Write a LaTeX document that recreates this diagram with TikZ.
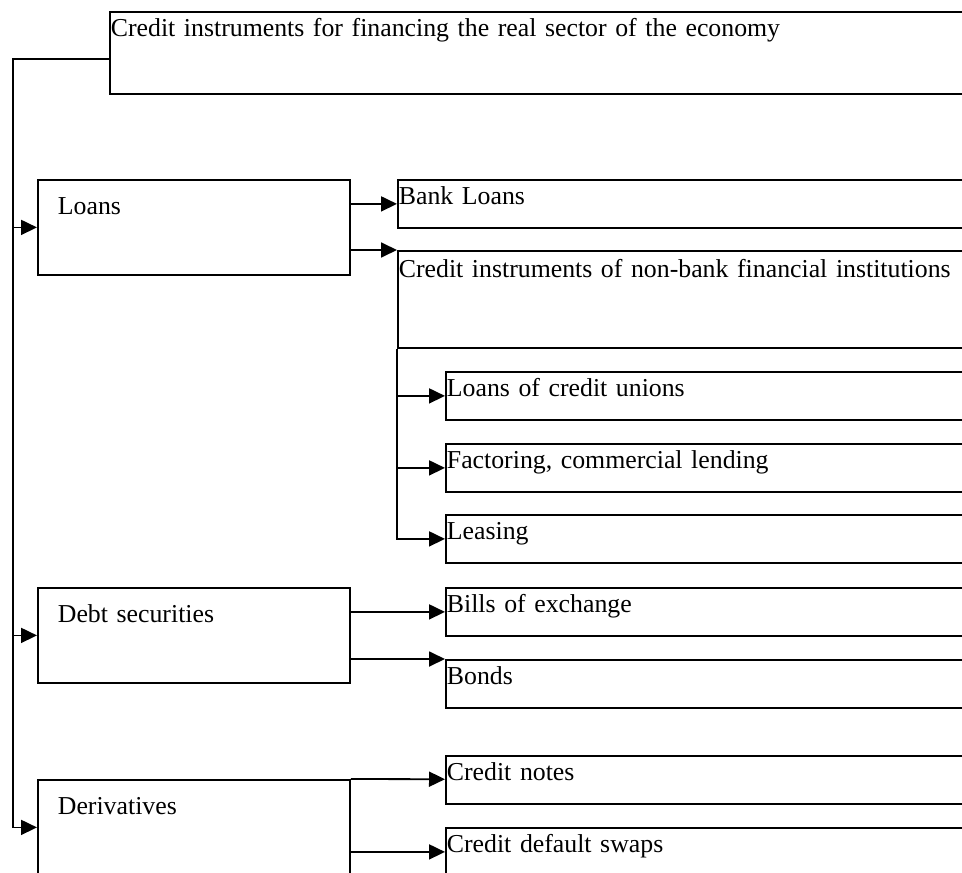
\documentclass[tikz,border=0pt]{standalone}
\usepackage{fontspec}
\setmainfont{Liberation Serif}
\usetikzlibrary{arrows.meta}

\begin{document}
\begin{tikzpicture}[
  x=0.5pt, y=-0.5pt,
  box/.style={draw, line width=0.9pt, anchor=north west, align=left, inner ysep=0pt, font=\fontsize{12.9}{15}\selectfont},
  leaf/.style={box, inner xsep=0.5pt, text width=300pt, text height=12.5pt, text depth=11.5pt},
  group/.style={box, inner xsep=10pt, text width=136pt, text height=17.5pt, text depth=30pt},
  arr/.style={-{Triangle[length=8pt,width=7.5pt]}, line width=0.9pt},
  lin/.style={line width=0.9pt}
]
  \clip (0,0) rectangle (962,872);
  \node[box, inner xsep=0.5pt, text width=445pt, text height=12.5pt, text depth=28.5pt] (root) at (109,11) {Credit instruments for financing the real sector of the economy};
  \node[group] (loans) at (37,179) {Loans};
  \node[leaf] (bank) at (397,179) {Bank Loans};
  \node[leaf, text width=320pt, text height=13.5pt, text depth=35pt] (nonbank) at (397,250) {Credit instruments of non-bank financial institutions};
  \node[leaf] (union) at (445,371) {Loans of credit unions};
  \node[leaf] (factor) at (445,443) {Factoring, commercial lending};
  \node[leaf] (leasing) at (445,514) {Leasing};
  \node[group] (debt) at (37,587) {Debt securities};
  \node[leaf] (bills) at (445,587) {Bills of exchange};
  \node[leaf] (bonds) at (445,659) {Bonds};
  \node[group] (deriv) at (37,779) {Derivatives};
  \node[leaf] (notes) at (445,755) {Credit notes};
  \node[leaf] (cds) at (445,827) {Credit default swaps};

  \coordinate (trunk) at (13,59);
  \draw[arr] (root.west |- trunk) -- (trunk) |- (deriv.west);
  \draw[arr] (trunk |- loans.west) -- (loans);
  \draw[arr] (trunk |- debt.west) -- (debt);
  \draw[arr] (loans.east |- bank.west) -- (bank);
  \draw[arr] (loans.east |- nonbank.north west) -- (nonbank.north west);
  \draw[arr] (nonbank.south west) |- (leasing.west);
  \draw[arr] (nonbank.south west |- union.west) -- (union);
  \draw[arr] (nonbank.south west |- factor.west) -- (factor);
  \draw[arr] (debt.east |- bills.west) -- (bills);
  \draw[arr] (debt.east |- bonds.north west) -- (bonds.north west);
  \draw[arr] (deriv.north east) -- (notes);
  \draw[arr] (deriv.east |- cds.west) -- (cds);
\end{tikzpicture}
\end{document}
